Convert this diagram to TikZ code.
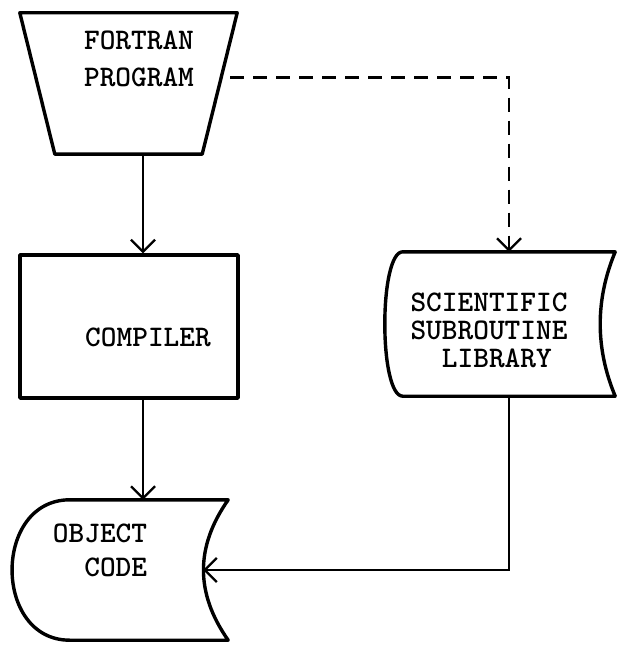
\documentclass[tikz,border=0pt]{standalone}
\usepackage{tikz}
\usetikzlibrary{
    positioning,
    arrows.meta,
    shapes.geometric,
    calc,
}
\tikzset{
    % Text style
    typed/.style={font=\ttfamily\bfseries\fontsize{30}{37}\selectfont, align=center, inner sep=0pt},
    % Shape styles
    outline/.style={line width=3.4bp, line join=round},
    process block/.style={rectangle, draw, outline, minimum width=218bp,
                  minimum height=143bp, inner sep=0pt},
    bare block/.style={rectangle, inner sep=0pt},
    % Arrow styles
    arrow/.style={-{Straight Barb[length=12bp, width=24bp]}, line width=2.2bp},
    dash arrow/.style={arrow, dash pattern=on 14bp off 9bp},
}

\begin{document}
\begin{tikzpicture}[x=1bp, y=-1bp]
    \useasboundingbox (0,0) rectangle (618,645);

    % Boxes
    \node[bare block, minimum width=217bp, minimum height=141bp] (prog) at (128.5, 83.5) {};
    \node[process block] (comp) at (129, 326.5) {};
    \node[bare block, minimum width=212bp, minimum height=144bp] (lib) at (509, 324) {};
    \node[bare block, minimum width=158bp, minimum height=140bp] (obj) at (149, 570) {};

    % Outlines
    \draw[outline] (prog.north west) -- (prog.north east)
        -- ([xshift=-35bp]prog.south east) -- ([xshift=35bp]prog.south west) -- cycle;
    \draw[outline] (lib.north west) -- (lib.north east)
        .. controls ([xshift=-20bp, yshift=-48bp]lib.north east)
        and ([xshift=-20bp, yshift=48bp]lib.south east) .. (lib.south east)
        -- (lib.south west)
        .. controls ([xshift=-24bp]lib.south west)
        and ([xshift=-24bp]lib.north west) .. cycle;
    \draw[outline] (obj.north west) -- (obj.north east)
        .. controls ([xshift=-33bp, yshift=-47bp]obj.north east)
        and ([xshift=-33bp, yshift=47bp]obj.south east) .. (obj.south east)
        -- (obj.south west)
        .. controls ([xshift=-77bp]obj.south west)
        and ([xshift=-77bp]obj.north west) .. cycle;
    \coordinate (prog out) at ([xshift=-7bp, yshift=6bp]prog.east);
    \coordinate (obj in) at ([xshift=-25bp]obj.east);

    % Texts
    \node[typed] (prog text) at (139, 58.5) {FORTRAN\\PROGRAM};
    \node[typed] (comp text) at (148, 337) {COMPILER};
    \node[typed, align=left, font=\ttfamily\bfseries\fontsize{30}{28}\selectfont]
        (lib text) at (489, 330) {SCIENTIFIC\\SUBROUTINE\\\ \ LIBRARY};
    \node[typed, align=left, font=\ttfamily\bfseries\fontsize{30}{34}\selectfont]
        (obj text) at (100, 550) {OBJECT\\\ \ CODE};

    % Arrows
    \draw[arrow] ([xshift=14.5bp]prog.south) -- ([xshift=14bp]comp.north);
    \draw[arrow] ([xshift=14bp]comp.south) -- ([xshift=14bp]comp.south |- obj.north);
    \draw[dash arrow] (prog out) -| (lib.north);
    \draw[arrow] (lib.south) |- (obj in);
\end{tikzpicture}
\end{document}
